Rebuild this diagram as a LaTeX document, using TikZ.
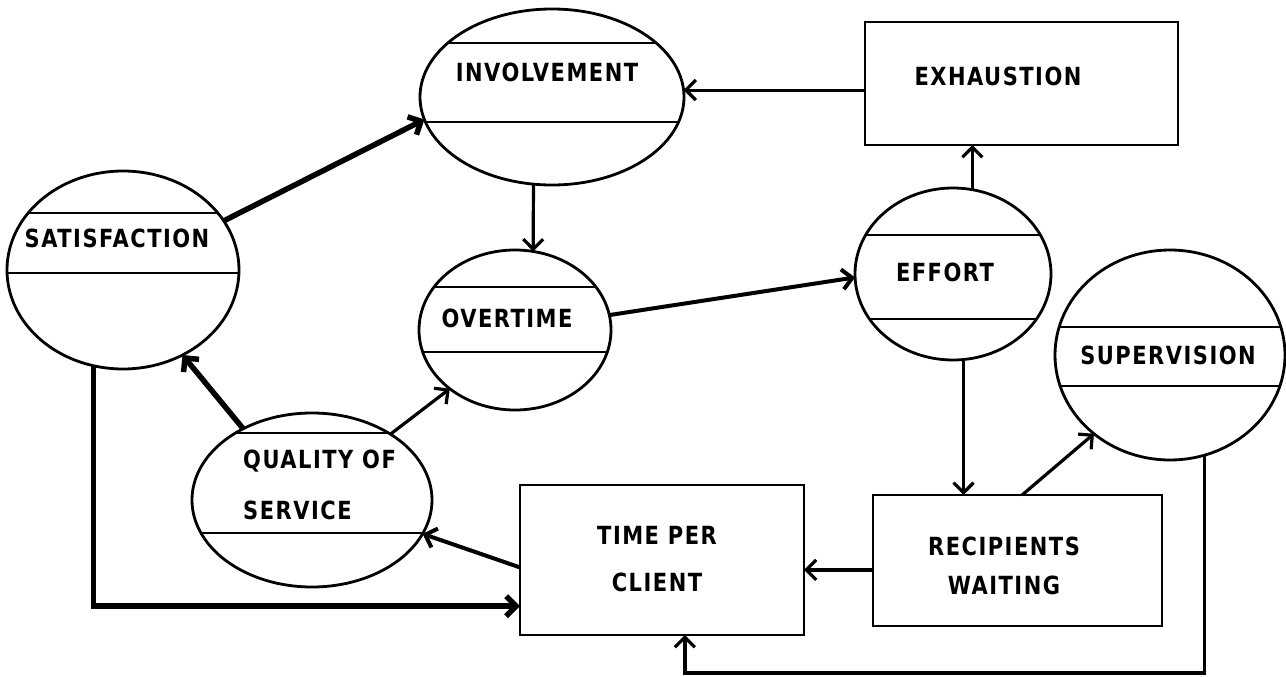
\documentclass[tikz,border=0pt]{standalone}
\usepackage{fontspec}
\setmainfont{DejaVu Sans}[FakeStretch=0.84, LetterSpace=6]
\usetikzlibrary{arrows.meta,shapes.geometric}
\tikzset{
 bubble/.style={ellipse, draw, line width=2.8pt, inner sep=0pt, outer sep=0pt},
 box/.style={rectangle, draw, line width=2.8pt, inner sep=0pt, outer sep=0pt},
 chordline/.style={line width=2.6pt},
 lbl/.style={inner sep=0pt, font=\fontsize{25}{29}\selectfont\bfseries},
 conn/.style={line width=3.2pt, -{Straight Barb[length=10pt,width=20pt]}},
 heavy/.style={conn, line width=5.5pt},
}
% name, cx, cy, rx, ry, chord1 y, chord2 y
\newcommand\bub[7]{%
 \node[bubble, minimum width={2*#4pt}, minimum height={2*#5pt}] (#1) at (#2,#3) {};
 \begin{scope}
 \clip (#2,#3) ellipse [x radius=#4, y radius=#5];
 \draw[chordline] (#2-#4,#6) -- (#2+#4,#6) (#2-#4,#7) -- (#2+#4,#7);
 \end{scope}}
\begin{document}
\begin{tikzpicture}[x=1pt,y=-1pt]
\path[fill=white] (0,0) rectangle (1286,677);
\useasboundingbox (0,0) rectangle (1286,677);

% bubbles
\bub{sat}{123}{270}{116}{99}{213}{273}
\bub{inv}{552}{97}{132}{88}{43}{122}
\bub{ovt}{515}{330}{96}{80}{287}{352}
\bub{qual}{312}{500}{120}{87}{433}{533}
\bub{eff}{953}{274}{98}{86}{235}{319}
\bub{sup}{1170}{355}{115}{105}{327}{386}

% boxes
\node[box, minimum width=313pt, minimum height=123pt] (exh) at (1021.5,83.5) {};
\node[box, minimum width=284pt, minimum height=150pt] (tpc) at (662,560) {};
\node[box, minimum width=289pt, minimum height=131pt] (rec) at (1017.5,560.5) {};

% labels
\node[lbl, anchor=north] (satl) at (117,229) {SATISFACTION};
\node[lbl, anchor=north] (invl) at (547,63) {INVOLVEMENT};
\node[lbl, anchor=north] (ovtl) at (507,309) {OVERTIME};
\node[lbl, anchor=north] (effl) at (945,263) {EFFORT};
\node[lbl, anchor=north] (supl) at (1168,346) {SUPERVISION};
\node[lbl, anchor=north] (exhl) at (998,67) {EXHAUSTION};
\node[lbl, anchor=north west, align=left, font=\fontsize{25}{51}\selectfont\bfseries] (quall) at (243,450) {QUALITY OF\\SERVICE};
\node[lbl, anchor=north, align=center, font=\fontsize{25}{47}\selectfont\bfseries] (tpcl) at (657,526) {TIME PER\\CLIENT};
\node[lbl, anchor=north, align=center, font=\fontsize{25}{39}\selectfont\bfseries] (recl) at (1004,537) {RECIPIENTS\\WAITING};

% connectors
\draw[heavy] (sat.26) -- (inv.190);
\draw[conn] (inv.258) -- (ovt.77);
\draw[conn] (exh.west |- inv.3) -- (inv.3);
\draw[conn] (eff.77) -- (eff.77 |- exh.south);
\draw[conn, line width=4pt] (ovt.9) -- (eff.182);
\draw[heavy] (qual.134) -- (sat.305);
\draw[conn] (qual.40) -- (ovt.222);
\draw[conn, line width=4pt] (tpc.183) -- (qual.343);
\draw[heavy] (sat.253) |- (tpc.198);
\draw[conn] (rec.west |- tpc.356) -- (tpc.356);
\draw[conn] (eff.277) -- (eff.277 |- rec.north);
\draw[conn] (rec.86) -- (sup.226);
\coordinate (fb) at (0,673);
\draw[conn] (sup.289) -- (sup.289 |- fb) -| (tpc.287);
\end{tikzpicture}
\end{document}
